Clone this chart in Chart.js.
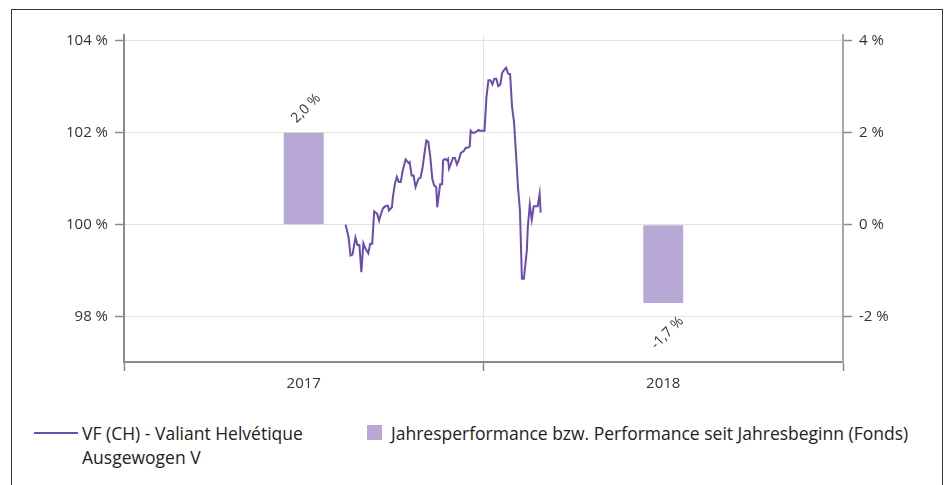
<!DOCTYPE html>
<html>
<head>
<meta charset="utf-8">
<script src="https://cdn.jsdelivr.net/npm/chart.js@4.4.0/dist/chart.umd.min.js"></script>
<style>
  html, body { margin: 0; padding: 0; background: #fff; overflow: hidden; }
  body { width: 947px; height: 485px; position: relative; font-family: "Open Sans", sans-serif; color: #222; }
  #frame { position: absolute; left: 11px; top: 9px; width: 930px; height: 520px; border: 1.5px solid #333; }
  #wrap { position: absolute; left: 0; top: 0; width: 947px; height: 400px; }
  .leg { position: absolute; font-size: 17.5px; line-height: 24px; color: #222; }
  .swatch-line { position: absolute; left: 34px; top: 432px; width: 44px; height: 2px; background: #6a4cb0; }
  .swatch-box { position: absolute; left: 367px; top: 425px; width: 15px; height: 15px; background: #b7a8d5; }
</style>
</head>
<body>
<div id="frame"></div>
<div id="wrap"><canvas id="chart"></canvas></div>
<div class="swatch-line"></div>
<div class="leg" style="left:82px; top:421px;">VF (CH) - Valiant Helvétique<br>Ausgewogen V</div>
<div class="swatch-box"></div>
<div class="leg" style="left:391px; top:421px;">Jahresperformance bzw. Performance seit Jahresbeginn (Fonds)</div>
<script>
// categories (years) and yearly performance in %
const years = ['2017', '2018'];
const yearPerf = [2.0, -1.7];

// fund price, indexed to 100 (x = days since 2017-01-01)
const lineDays = [225, 228, 230, 232, 235, 237, 239, 241, 243, 245, 248, 250, 252, 254, 257, 259, 261, 263, 266, 268,
  269, 272, 273, 275, 277, 279, 281, 283, 286, 289, 290, 292, 294, 296, 299, 301, 303, 305, 307, 309,
  311, 313, 315, 317, 318, 321, 323, 324, 326, 328, 329, 330, 332, 334, 336, 338, 340, 342, 345, 347,
  349, 351, 352, 354, 356, 359, 360, 361, 364, 366, 368, 370, 372, 374, 376, 378, 380, 382, 383, 384,
  387, 388, 390, 392, 394, 396, 398, 400, 402, 404, 406, 409, 410, 412, 414, 416, 418, 420, 422, 423];
const lineValues = [100.00, 99.73, 99.33, 99.35, 99.72, 99.56, 99.56, 98.97, 99.60, 99.49, 99.38, 99.59, 99.59, 100.29, 100.24, 100.09, 100.24, 100.36, 100.41, 100.41,
  100.31, 100.38, 100.60, 100.88, 101.04, 100.93, 100.93, 101.18, 101.42, 101.34, 101.36, 101.07, 101.07, 100.82, 101.00, 101.02, 101.22, 101.54, 101.83, 101.80,
  101.47, 101.00, 100.85, 100.82, 100.38, 100.88, 100.88, 101.40, 101.43, 101.40, 101.43, 101.22, 101.33, 101.45, 101.45, 101.31, 101.41, 101.56, 101.60, 101.67,
  101.67, 101.70, 102.04, 102.00, 102.00, 102.04, 102.06, 102.04, 102.04, 102.04, 102.77, 103.14, 103.14, 103.05, 103.17, 103.17, 103.01, 103.04, 103.17, 103.30,
  103.39, 103.41, 103.28, 103.27, 102.56, 102.23, 101.54, 100.82, 100.31, 98.83, 98.83, 99.44, 99.95, 100.44, 100.11, 100.40, 100.40, 100.40, 100.67, 100.26];

const leftTicks = [98, 100, 102, 104];
const rightTicks = [-2, 0, 2, 4];

const lineColor = '#6a4cb0';
const barColor = '#b7a8d5';
const tickFont = { family: 'Open Sans', size: 15 };

// rotated value labels on the bars
const barLabels = {
  id: 'barLabels',
  afterDatasetsDraw(chart) {
    const meta = chart.getDatasetMeta(0);
    const ctx = chart.ctx;
    ctx.save();
    ctx.font = '14px "Open Sans"';
    ctx.fillStyle = '#333';
    ctx.textBaseline = 'middle';
    meta.data.forEach((bar, i) => {
      const v = yearPerf[i];
      const txt = v.toFixed(1).replace('.', ',') + ' %';
      ctx.save();
      if (v >= 0) {
        ctx.translate(bar.x - 10, bar.y - 12);
        ctx.rotate(-Math.PI / 4);
        ctx.textAlign = 'left';
      } else {
        ctx.translate(bar.x + 18, bar.y + 16);
        ctx.rotate(-Math.PI / 4);
        ctx.textAlign = 'right';
      }
      ctx.fillText(txt, 0, 0);
      ctx.restore();
    });
    ctx.restore();
  }
};

new Chart(document.getElementById('chart'), {
  data: {
    labels: years,
    datasets: [
      {
        type: 'bar',
        data: yearPerf,
        backgroundColor: barColor,
        xAxisID: 'x',
        yAxisID: 'y2',
        grouped: false,
        categoryPercentage: 1,
        barPercentage: 0.111,
        order: 2
      },
      {
        type: 'line',
        data: lineDays.map((d, i) => ({ x: d, y: lineValues[i] })),
        borderColor: lineColor,
        borderWidth: 2,
        pointRadius: 0,
        tension: 0,
        xAxisID: 'xl',
        yAxisID: 'y',
        order: 1
      }
    ]
  },
  plugins: [barLabels],
  options: {
    responsive: true,
    maintainAspectRatio: false,
    animation: false,
    layout: { padding: { top: 35, left: 0, right: 0, bottom: 0 } },
    plugins: {
      legend: { display: false },
      tooltip: { enabled: false }
    },
    scales: {
      x: {
        type: 'category',
        offset: true,
        grid: { offset: true, color: '#e3e3e3', tickColor: '#8a8a8a', tickLength: 9, tickWidth: 1.5 },
        border: { color: '#8a8a8a', width: 2 },
        ticks: { color: '#333', font: { family: 'Open Sans', size: 15 }, padding: 4 },
        afterFit: (s) => { s.height = 38; }
      },
      xl: {
        type: 'linear',
        display: false,
        min: 0,
        max: 730
      },
      y: {
        position: 'left',
        min: 97.02,
        max: 104.12,
        afterBuildTicks: (s) => { s.ticks = leftTicks.map(v => ({ value: v })); },
        grid: { color: '#e3e3e3', tickColor: '#8a8a8a', tickLength: 9, tickWidth: 1.5 },
        border: { color: '#8a8a8a', width: 2 },
        ticks: { color: '#333', font: tickFont, padding: 7, callback: (v) => v + ' %' },
        afterFit: (s) => { s.width = 124; }
      },
      y2: {
        position: 'right',
        min: -2.98,
        max: 4.12,
        afterBuildTicks: (s) => { s.ticks = rightTicks.map(v => ({ value: v })); },
        grid: { drawOnChartArea: false, tickColor: '#8a8a8a', tickLength: 9, tickWidth: 1.5 },
        border: { color: '#a8a8a8', width: 2 },
        ticks: { color: '#333', font: tickFont, padding: 7, callback: (v) => v + ' %' },
        afterFit: (s) => { s.width = 104; }
      }
    }
  }
});
</script>
</body>
</html>
